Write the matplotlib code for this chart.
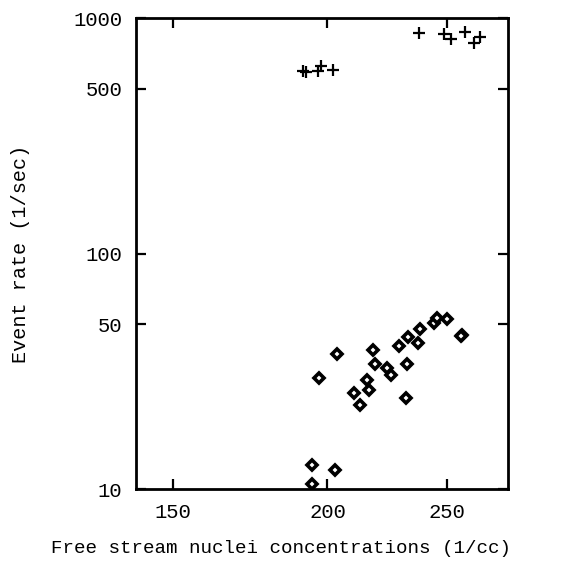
import matplotlib
matplotlib.use('Agg')
import matplotlib.pyplot as plt
from matplotlib.ticker import FixedLocator, FixedFormatter, NullLocator

# nuclei concentration (1/cc) vs event rate (1/sec), two run groups
cross_x = [191.0, 192.2, 196.4, 197.7, 202.0, 237.0, 248.6, 251.8, 258.6, 262.6, 265.9]
cross_y = [596, 588, 593, 628, 601, 866, 855, 812, 874, 781, 828]

diam_x = [194.5, 194.5, 202.9, 196.7, 203.5, 217.7, 218.6, 215.3, 216.3, 210.2, 212.6,
          223.4, 225.0, 231.9, 231.6, 228.6, 232.6, 236.7, 237.5, 243.8, 245.3, 249.9,
          256.9, 256.3]
diam_y = [12.65, 10.5, 12.0, 29.5, 37.3, 38.9, 33.9, 29.0, 26.3, 25.5, 22.7,
          32.5, 30.5, 33.8, 24.3, 40.6, 44.1, 41.6, 47.8, 50.5, 53.4, 52.7,
          45.1, 44.6]

xticks = [150, 200, 250]
yticks = [10, 50, 100, 500, 1000]

plt.rcParams['font.family'] = ['Liberation Mono', 'DejaVu Sans Mono']
plt.rcParams['font.size'] = 14

fig = plt.figure(figsize=(5.82, 5.63), dpi=100)
ax = fig.add_axes([0.2337, 0.1314, 0.6392, 0.8366])

ax.plot(cross_x, cross_y, '+', color='black', ms=8, mew=1.6, ls='none')
ax.plot(diam_x, diam_y, 'D', mfc='white', mec='black', ms=5, mew=2.6, ls='none')

ax.set_xscale('log')
ax.set_yscale('log')
ax.set_xlim(140, 280)
ax.set_ylim(10, 1000)

ax.xaxis.set_major_locator(FixedLocator(xticks))
ax.xaxis.set_major_formatter(FixedFormatter([str(v) for v in xticks]))
ax.xaxis.set_minor_locator(NullLocator())
ax.yaxis.set_major_locator(FixedLocator(yticks))
ax.yaxis.set_major_formatter(FixedFormatter([str(v) for v in yticks]))
ax.yaxis.set_minor_locator(NullLocator())

ax.tick_params(direction='in', length=7, width=1.6, top=True, right=True,
               labelsize=14.8, pad=10)
for s in ax.spines.values():
    s.set_linewidth(2)

ax.set_xlabel('Free stream nuclei concentrations (1/cc)', fontsize=13.8)
ax.xaxis.set_label_coords(0.39, -0.108)
ax.set_ylabel('Event rate (1/sec)', fontsize=14.5)
ax.yaxis.set_label_coords(-0.285, 0.5)

fig.savefig('out.png', dpi=100)
